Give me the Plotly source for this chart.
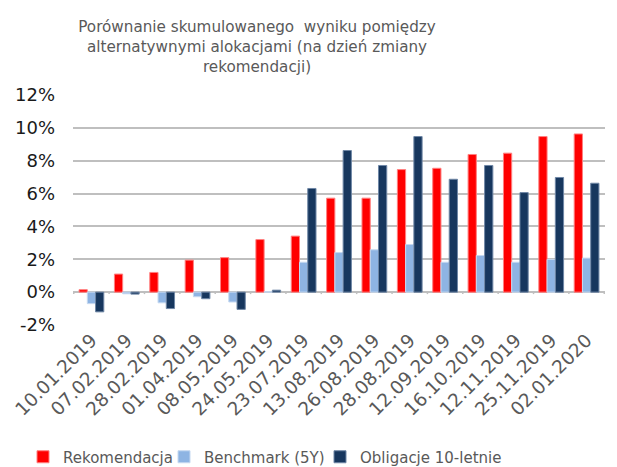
import plotly.graph_objects as go

categories = ["10.01.2019", "07.02.2019", "28.02.2019", "01.04.2019", "08.05.2019",
              "24.05.2019", "23.07.2019", "13.08.2019", "26.08.2019", "28.08.2019",
              "12.09.2019", "16.10.2019", "12.11.2019", "25.11.2019", "02.01.2020"]
rekomendacja = [0.15, 1.1, 1.2, 1.95, 2.1, 3.2, 3.41, 5.72, 5.72, 7.46, 7.54, 8.38, 8.46, 9.47, 9.63]
benchmark = [-0.7, -0.1, -0.65, -0.28, -0.6, 0.02, 1.82, 2.41, 2.58, 2.9, 1.82, 2.23, 1.82, 1.99, 2.07]
obligacje = [-1.2, -0.12, -1.0, -0.4, -1.05, 0.12, 6.31, 8.62, 7.71, 9.47, 6.87, 7.71, 6.06, 6.98, 6.63]
y_ticks = [-2, 0, 2, 4, 6, 8, 10, 12]

FONT = "DejaVu Sans"
W, H = 609, 459  # page body keeps an 8px margin

fig = go.Figure()
series = [("Rekomendacja", rekomendacja, "#FF0000", "#FF8080", "legend"),
          ("Benchmark (5Y)", benchmark, "#8EB4E3", "#C6D9F1", "legend2"),
          ("Obligacje 10-letnie", obligacje, "#17375E", "#6F87A6", "legend3")]
for name, vals, col, line, leg in series:
    fig.add_trace(go.Bar(x=categories, y=[v / 100 for v in vals], name=name, legend=leg,
                         marker=dict(color=col, line=dict(color=line, width=1))))

# small tick marks along the category axis at zero
shapes = []
for i in range(len(categories) + 1):
    shapes.append(dict(type="line", xref="x", yref="y", x0=i - 0.5, x1=i - 0.5,
                       y0=0, y1=-0.0012, line=dict(color="#BFBFBF", width=1.5)))

def legend_at(px):
    return dict(orientation="h", x=px / W, xanchor="left", xref="container",
                y=10 / H, yanchor="middle", yref="container",
                font=dict(family=FONT, size=15, color="#595959"),
                itemwidth=30, bgcolor="rgba(0,0,0,0)")

fig.update_layout(
    width=W, height=H,
    margin=dict(l=65, r=12, t=87, b=142, autoexpand=False),
    paper_bgcolor="white", plot_bgcolor="white",
    title=dict(text="Porównanie skumulowanego  wyniku pomiędzy<br>alternatywnymi alokacjami (na dzień zmiany<br>rekomendacji)",
               x=249 / W, xanchor="center", xref="container",
               y=1 - 24 / H, yanchor="top", yref="container",
               font=dict(family=FONT, size=15.2, color="#595959")),
    barmode="group", bargap=0.3, bargroupgap=0.0,
    showlegend=True,
    legend=legend_at(15),
    legend2=legend_at(156),
    legend3=legend_at(312),
    shapes=shapes,
    font=dict(family=FONT),
)
fig.update_xaxes(type="category", tickangle=-45, showgrid=False, showline=False,
                 ticks="", automargin=False,
                 tickfont=dict(family=FONT, size=18.5, color="#595959"))
fig.update_yaxes(range=[-0.02, 0.12], tickvals=[v / 100 for v in y_ticks],
                 ticktext=[f"{v}%" for v in y_ticks], automargin=False,
                 showgrid=True, gridcolor="#BFBFBF", gridwidth=1.5,
                 zeroline=True, zerolinecolor="#BFBFBF", zerolinewidth=1.5,
                 showline=False, ticks="", ticklen=0, ticklabelstandoff=17,
                 tickfont=dict(family=FONT, size=18, color="#1a1a1a"))

fig.write_html("out.html")
